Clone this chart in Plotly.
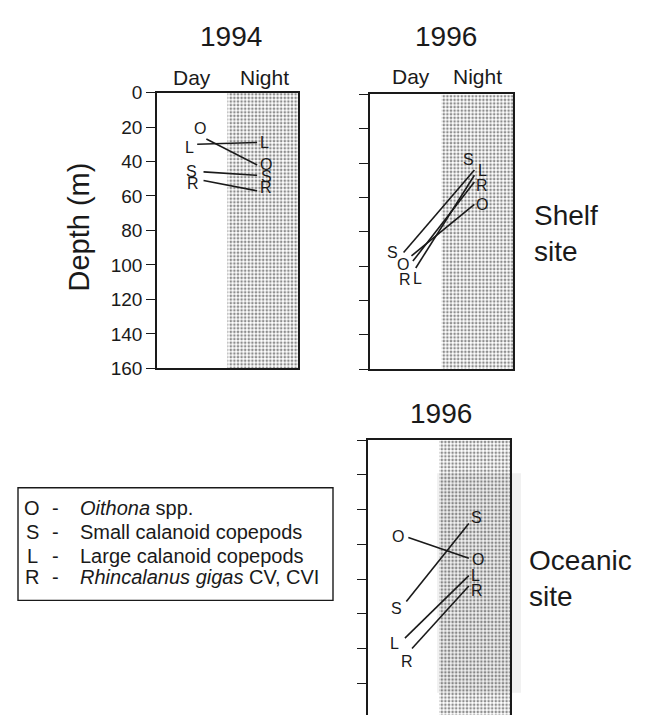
import plotly.graph_objects as go

W, H = 652, 726
FONT = "Liberation Sans, Arial, Helvetica, sans-serif"
INK = "#1a1a1a"

# Taxon codes used on the lines and in the key
taxa = ["O", "S", "L", "R"]

# Mean depth (m) of each group by day and by night
shelf94_day = [27, 46, 30, 51]
shelf94_night = [42, 48, 29, 57]
shelf96_day = [94, 92, 101, 97]
shelf96_night = [64, 44, 47, 51]
ocean96_day = [56, 93, 114, 120]
ocean96_night = [68, 48, 78, 84]

depth_ticks = [0, 20, 40, 60, 80, 100, 120, 140, 160]

key_codes = ["O", "S", "L", "R"]
key_names = [
    "<i>Oithona</i> spp.",
    "Small calanoid copepods",
    "Large calanoid copepods",
    "<i>Rhincalanus gigas</i> CV, CVI",
]


def px(x):
    return x / W


def py(y):
    return 1 - y / H


# Panel geometry and label placement (screen pixels)
panels = [
    dict(ax="", box=(157, 85, 298, 369), ymax=160, day=shelf94_day, night=shelf94_night,
         xday=[0.35, 0.33, 0.285, 0.33], xnight=0.71, labels=True, bottom=True,
         off_day=[(-6, -11), (-12, 0), (-8, 3), (-11, 3)],
         off_night=[(9, 0), (9, 1), (7, 0), (9, -3)]),
    dict(ax="2", box=(370, 87, 513, 370), ymax=160, day=shelf96_day, night=shelf96_night,
         xday=[0.29, 0.235, 0.32, 0.30], xnight=0.73, labels=False, bottom=True,
         off_day=[(-8, 9), (-11, 0), (2, 11), (-8, 18)],
         off_night=[(8, 0), (-6, -11), (8, -5), (8, 3)]),
    dict(ax="3", box=(368, 443, 510, 726), ymax=(726 - 443) / 1.7875, day=ocean96_day,
         night=ocean96_night, xday=[0.284, 0.27, 0.26, 0.31], xnight=0.71, labels=False,
         bottom=False,
         off_day=[(-10, -1), (-10, 7), (-10, 5), (-5, 13)],
         off_night=[(9, 1), (8, -6), (7, 0), (8, 5)]),
]

fig = go.Figure()
annotations = []
shapes = []

# faint grey haze over the night band of the oceanic panel
shapes.append(dict(type="rect", xref="paper", yref="paper", layer="below",
                   x0=px(437), x1=px(521), y0=py(703), y1=py(477),
                   fillcolor="rgba(190,190,190,0.22)", line=dict(width=0)))

for p in panels:
    xa, ya = "x" + p["ax"], "y" + p["ax"]
    x0, y0, x1, y1 = p["box"]
    ymax = p["ymax"]

    # stippled night band
    fig.add_trace(go.Scatter(
        x=[0.5, 1, 1, 0.5, 0.5], y=[0, 0, ymax, ymax, 0], mode="lines",
        line=dict(width=0), fill="toself", fillcolor="rgba(0,0,0,0)",
        fillpattern=dict(shape=".", fgcolor="#1e1e1e", bgcolor="rgba(0,0,0,0)",
                         size=3.6, solidity=0.42),
        xaxis=xa, yaxis=ya, hoverinfo="skip", showlegend=False))

    for i, t in enumerate(taxa):
        xd, xn = p["xday"][i], p["xnight"]
        fig.add_trace(go.Scatter(
            x=[xd, xn], y=[p["day"][i], p["night"][i]], mode="lines",
            line=dict(color=INK, width=1.6), xaxis=xa, yaxis=ya,
            hoverinfo="skip", showlegend=False))
        for (xx, yy, (dx, dy)) in [(xd, p["day"][i], p["off_day"][i]),
                                   (xn, p["night"][i], p["off_night"][i])]:
            annotations.append(dict(
                x=xx, y=yy, xref=xa, yref=ya, text=t, showarrow=False,
                xanchor="center", yanchor="middle",
                xshift=dx, yshift=-dy, font=dict(size=16, color=INK, family=FONT)))

    axkey = "xaxis" + p["ax"]
    aykey = "yaxis" + p["ax"]
    fig.layout[axkey] = dict(
        domain=[px(x0), px(x1)], range=[0, 1], anchor=ya,
        showgrid=False, zeroline=False, showticklabels=False, ticks="",
        showline=True, linecolor=INK, linewidth=1.6,
        mirror=True if p["bottom"] else False,
        side="bottom" if p["bottom"] else "top")
    fig.layout[aykey] = dict(
        domain=[py(y1), py(y0)], range=[ymax, 0], anchor=xa,
        showgrid=False, zeroline=False,
        tickvals=depth_ticks, ticks="outside", ticklen=9, tickwidth=1.4,
        tickcolor=INK, showticklabels=p["labels"],
        tickfont=dict(size=19, color=INK, family=FONT),
        showline=True, linecolor=INK, linewidth=1.6, mirror=True)


# Titles and column headings
def text(x, y, s, size, **kw):
    d = dict(x=px(x), y=py(y), xref="paper", yref="paper", text=s, showarrow=False,
             xanchor="center", yanchor="middle",
             font=dict(size=size, color=INK, family=FONT))
    d.update(kw)
    annotations.append(d)


text(231, 27, "1994", 28)
text(446, 27, "1996", 28)
text(441, 416, "1996", 28)
text(192, 69, "Day", 21)
text(264, 69, "Night", 21)
text(411, 68, "Day", 21)
text(477, 68, "Night", 21)
text(79, 224, "Depth (m)", 29, textangle=-90)
text(532, 230, "Shelf<br>site", 28, xanchor="left", align="left")
text(527, 585, "Oceanic<br>site", 28, xanchor="left", align="left")

# Key box
shapes.append(dict(type="rect", xref="paper", yref="paper",
                   x0=px(18), x1=px(333), y0=py(608), y1=py(492),
                   line=dict(color=INK, width=1.4), fillcolor="rgba(0,0,0,0)"))
key_rows = [513, 538, 562, 584]
for code, name, yy in zip(key_codes, key_names, key_rows):
    text(32, yy, code, 20)
    text(55, yy, "-", 20)
    text(78, yy, name, 20, xanchor="left")

fig.update_layout(
    width=W, height=H, margin=dict(l=0, r=0, t=0, b=0),
    paper_bgcolor="white", plot_bgcolor="rgba(0,0,0,0)",
    annotations=annotations, shapes=shapes, showlegend=False,
    font=dict(family=FONT, color=INK))

fig.write_html("out.html")
